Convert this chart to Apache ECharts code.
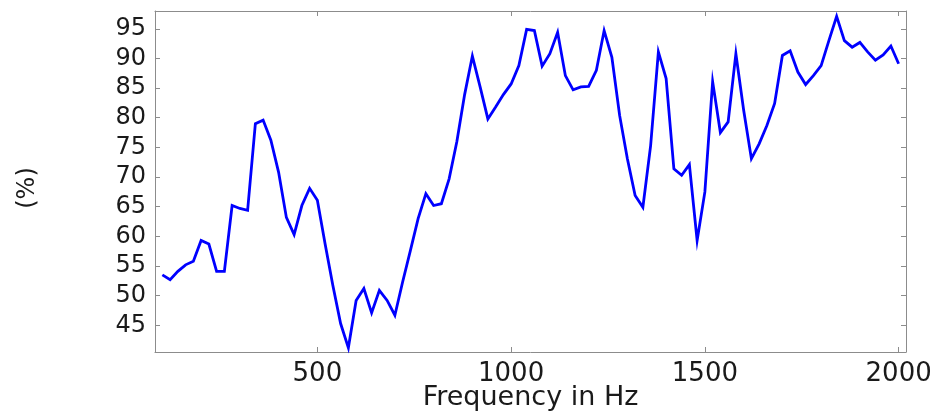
<!DOCTYPE html>
<html>
<head>
<meta charset="utf-8">
<script src="https://cdn.jsdelivr.net/npm/echarts@6/dist/echarts.min.js"></script>
<style>
html,body{margin:0;padding:0;background:#fff;overflow:hidden;}
#chart{width:930px;height:417px;display:block;}
</style>
</head>
<body>
<div id="chart"></div>
<script>
const freqs = [100,120,140,160,180,200,220,240,260,280,300,320,340,360,380,400,420,440,460,480,
500,520,540,560,580,600,620,640,660,680,700,720,740,760,780,800,820,840,860,880,
900,920,940,960,980,1000,1020,1040,1060,1080,1100,1120,1140,1160,1180,1200,1220,1240,1260,1280,
1300,1320,1340,1360,1380,1400,1420,1440,1460,1480,1500,1520,1540,1560,1580,1600,1620,1640,1660,1680,
1700,1720,1740,1760,1780,1800,1820,1840,1860,1880,1900,1920,1940,1960,1980,2000];
const values = [53.5,52.7,54.1,55.2,55.8,59.3,58.7,54.1,54.1,65.2,64.7,64.4,79.0,79.6,76.2,70.8,63.2,60.3,65.2,68.1,
66.1,58.7,51.7,45.3,41.2,49.2,51.2,47.1,50.9,49.2,46.7,52.3,57.6,63.0,67.2,65.2,65.5,69.7,76.0,83.9,
90.4,85.2,79.8,81.8,83.9,85.7,88.8,94.9,94.7,88.7,90.8,94.4,87.1,84.7,85.2,85.3,88.0,94.7,90.2,80.4,
73.1,66.9,64.9,75.3,91.1,86.6,71.4,70.3,72.1,59.3,67.5,86.1,77.5,79.3,90.8,81.3,73.1,75.6,78.7,82.4,
90.5,91.3,87.7,85.6,87.1,88.8,93.0,97.1,93.0,91.9,92.7,91.1,89.7,90.6,92.1,89.1];
const xTicks = [500,1000,1500,2000];
const yTicks = [45,50,55,60,65,70,75,80,85,90,95];
const xTitle = 'Frequency in Hz';
const yTitle = '(%)';

const X_MIN = 81, X_MAX = 2019, Y_MIN = 40.5, Y_MAX = 98;
const FONT = 'DejaVu Sans';
const AX = '#8c8c8c';

const chart = echarts.init(document.getElementById('chart'));
function xAx(pos, showLabel){
  return {
    type:'value', position:pos, min:X_MIN, max:X_MAX,
    splitLine:{show:false},
    axisLine:{show:true, onZero:false, lineStyle:{color:AX, width:1}},
    axisTick:{show:true, inside:true, length:5, customValues:xTicks, lineStyle:{color:AX}},
    axisLabel:{show:showLabel, customValues:xTicks, formatter:v=>String(v), fontFamily:FONT, fontSize:26, color:'#1a1a1a', margin:9},
    name: showLabel ? xTitle : '', nameLocation:'middle', nameGap:32, nameMoveOverlap:false,
    nameTextStyle:{fontFamily:FONT, fontSize:27, color:'#1a1a1a'}
  };
}
function yAx(pos, showLabel){
  return {
    type:'value', position:pos, min:Y_MIN, max:Y_MAX,
    splitLine:{show:false},
    axisLine:{show:true, onZero:false, lineStyle:{color:AX, width:1}},
    axisTick:{show:true, inside:true, length:5, customValues:yTicks, lineStyle:{color:AX}},
    axisLabel:{show:showLabel, customValues:yTicks, formatter:v=>String(v), fontFamily:FONT, fontSize:24, color:'#1a1a1a', margin:9}
  };
}
chart.setOption({
  animation:false,
  backgroundColor:'#ffffff',
  grid:{left:155, right:24, top:11, bottom:65, containLabel:false, outerBoundsMode:'none'},
  xAxis:[xAx('bottom', true), xAx('top', false)],
  yAxis:[yAx('left', true), yAx('right', false)],
  graphic:[{
    type:'text', x:28, y:188, rotation:Math.PI/2,
    style:{text:yTitle, font:'24px "DejaVu Sans"', fill:'#1a1a1a', align:'center', verticalAlign:'middle'}
  }],
  series:[{
    type:'line', xAxisIndex:0, yAxisIndex:0,
    data: freqs.map((f,i)=>[f, values[i]]),
    showSymbol:false, symbol:'none',
    lineStyle:{color:'#0000ff', width:2.8, join:'miter'},
    clip:true
  }]
});
</script>
</body>
</html>
